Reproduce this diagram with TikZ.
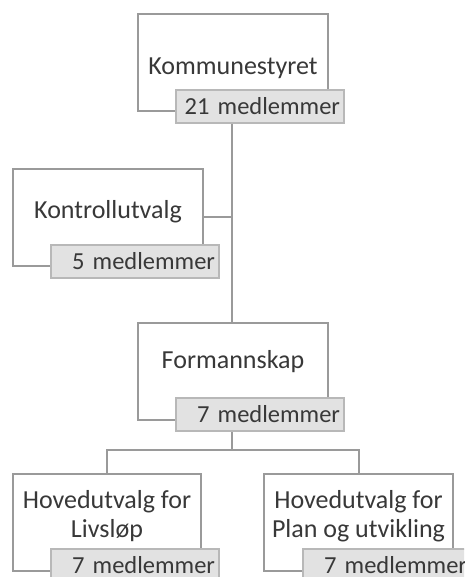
\documentclass[tikz,border=0pt]{standalone}
\usepackage{fontspec}
\setmainfont{Carlito}
\definecolor{boxgray}{HTML}{9A9A9A}
\definecolor{tabgray}{HTML}{B8B8B8}
\definecolor{tabfill}{HTML}{E2E2E2}
\definecolor{textgray}{HTML}{383838}
\tikzset{
  unitbox/.style={draw=boxgray,line width=2pt,fill=white,anchor=north west,
    minimum width=#1,minimum height=97pt,inner sep=0pt},
  unittext/.style={text=textgray,font=\fontsize{26}{29}\selectfont,align=center,inner sep=0pt},
  countbox/.style={draw=tabgray,fill=tabfill,line width=2pt,anchor=north west,
    minimum width=168pt,minimum height=33pt,inner sep=0pt,text width=160pt,align=right,
    text=textgray,font=\fontsize{24.5}{26}\selectfont},
  link/.style={draw=boxgray,line width=2pt}
}
\begin{document}
\begin{tikzpicture}[x=1pt,y=-1pt]
    \useasboundingbox (0,0) rectangle (464,577);
    \clip (0,0) rectangle (464,577);

    % kommunestyret
    \node[unitbox=190pt] (ks) at (137,13) {};
    \node[unittext] at ([yshift=-6pt]ks.center) {Kommunestyret};
    \node[countbox] (ksn) at (175,89) {21 medlemmer};

    % kontrollutvalg
    \node[unitbox=190pt] (ku) at (12,168) {};
    \node[unittext] at ([yshift=6pt]ku.center) {Kontrollutvalg};
    \node[countbox] (kun) at (50,244) {5 medlemmer};

    % formannskap
    \node[unitbox=190pt] (fs) at (137,322) {};
    \node[unittext] at ([yshift=10pt]fs.center) {Formannskap};
    \node[countbox] (fsn) at (175,397) {7 medlemmer};

    % hovedutvalg
    \node[unitbox=188pt] (hl) at (12,473) {};
    \node[unittext] at ([yshift=6pt]hl.center) {Hovedutvalg for\\Livsløp};
    \node[countbox] (hln) at (50,548) {7 medlemmer};

    \node[unitbox=189pt] (hp) at (263,473) {};
    \node[unittext] at ([yshift=6pt]hp.center) {Hovedutvalg for\\Plan og utvikling};
    \node[countbox] (hpn) at (302,548) {7 medlemmer};

    % connectors
    \draw[link] (ksn.south -| 232,0) -- (fs.north -| 232,0);
    \draw[link] (ku.east |- 0,217) -- (232,217);
    \coordinate (split) at (232,450);
    \draw[link] (fsn.south -| split) -- (split);
    \draw[link] (hl.north) |- (split) -| (hp.north);
\end{tikzpicture}
\end{document}
